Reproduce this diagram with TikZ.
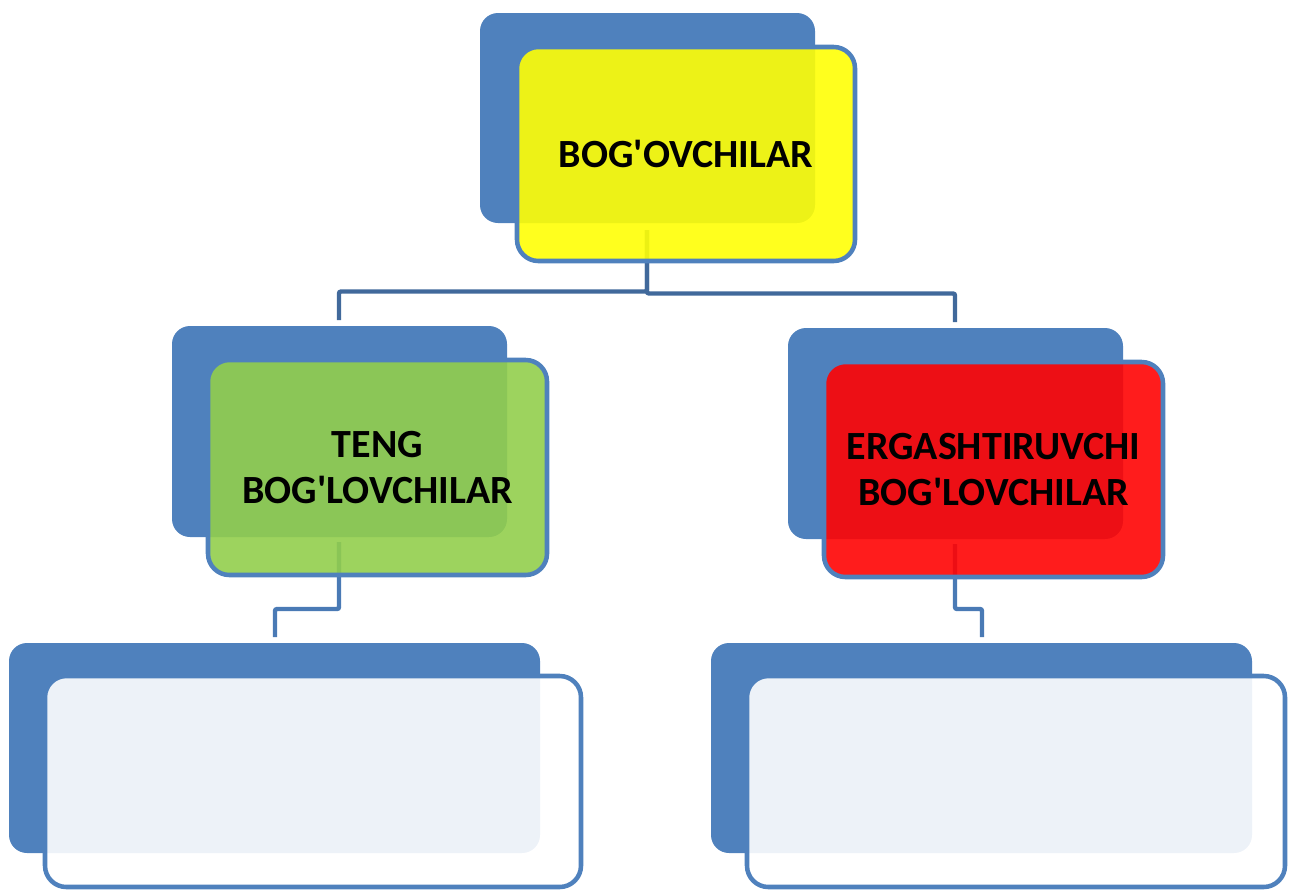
\documentclass[tikz,border=0pt]{standalone}
\usepackage{fontspec}
\setmainfont{Carlito}
\usepackage{tikz}
\usetikzlibrary{fit,calc,positioning}
\definecolor{boxblue}{HTML}{4F81BD}
\definecolor{linkdark}{HTML}{41699B}
\definecolor{linkblue}{HTML}{4A7AB5}
\definecolor{topyellow}{HTML}{FFFF05}
\definecolor{tenggreen}{HTML}{92CE4C}
\definecolor{ergred}{HTML}{FF0303}
\newcommand{\ap}{\textquotesingle}
\tikzset{back/.style={fill=boxblue, rounded corners=13.5pt, inner sep=0pt}}
\tikzstyle{front}=[draw=boxblue, line width=3.4pt, rounded corners=16pt, fill opacity=0.9, inner sep=0pt]
\tikzstyle{boxtext}=[align=center, inner sep=0pt, font=\fontsize{30}{35}\selectfont\bfseries]
\tikzstyle{link}=[draw=linkblue, line width=3.3pt, rounded corners=1.5pt]

\begin{document}
\begin{tikzpicture}[x=0.75pt, y=-0.75pt]
\useasboundingbox (0,0) rectangle (1289,890);
% blue backs
\node[back, fit={(480,13) (815,223)}] (topb) {};
\node[back, fit={(172,326) (507,537)}] (tengb) {};
\node[back, fit={(788,328) (1123,539)}] (ergb) {};
\node[back, fit={(9,643) (540,853)}] (lowlb) {};
\node[back, fit={(711,643) (1252,853)}] (lowrb) {};

% connectors
\coordinate (topout) at (647,230);
\coordinate (tengin) at (339,320);
\coordinate (ergin) at (955,322);
\coordinate (tengout) at (339,542);
\coordinate (ergout) at (955,544);
\coordinate (lowlin) at (275,637);
\coordinate (lowrin) at (982,637);
\draw[link, draw=linkdark] (topout) |- (tengin |- 0,291.5) -- (tengin);
\draw[link, draw=linkdark] (topout) |- (ergin |- 0,293.5) -- (ergin);
\draw[link] (tengout) |- (lowlin |- 0,609) -- (lowlin);
\draw[link] (ergout) |- (lowrin |- 0,609) -- (lowrin);

% front boxes
\node[front, fill=topyellow, fit={(517,47) (855,261)},
  label={[boxtext]center:BOG\ap OVCHILAR}] (top) {};
\node[front, fill=tenggreen, fit={(208,360) (547,575)},
  label={[boxtext]center:TENG\\BOG\ap LOVCHILAR}] (teng) {};
\node[front, fill=ergred, fit={(824,362) (1163,577)},
  label={[boxtext]center:ERGASHTIRUVCHI\\BOG\ap LOVCHILAR}] (erg) {};
\node[front, fill=white, fit={(45,676) (581,887)}] (lowl) {};
\node[front, fill=white, fit={(747,676) (1285,887)}] (lowr) {};
\end{tikzpicture}
\end{document}
